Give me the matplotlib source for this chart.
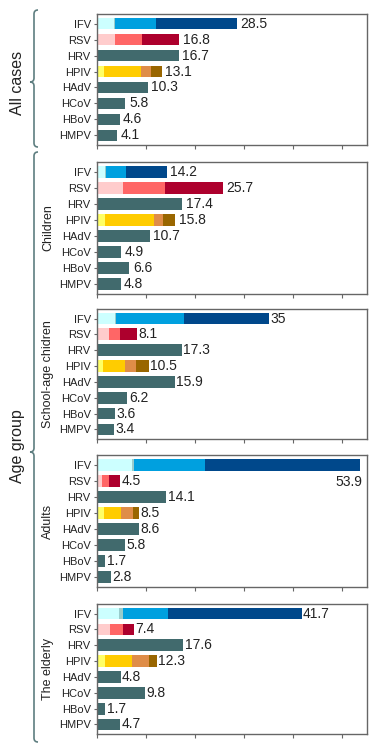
import matplotlib
matplotlib.use("Agg")
import matplotlib.pyplot as plt
from matplotlib.path import Path
from matplotlib.patches import PathPatch
import numpy as np

plt.rcParams['font.family'] = ['Liberation Sans', 'DejaVu Sans']

viruses = ["IFV", "RSV", "HRV", "HPIV", "HAdV", "HCoV", "HBoV", "HMPV"]
groups = ["All cases", "Children", "School-age chidren", "Adults", "The elderly"]

# IFV segments: [light cyan, separator, blue, dark blue]
ifv_seg = [
    [3.46, 0.2, 8.35, 16.5],
    [1.63, 0.2, 4.07, 8.3],
    [3.67, 0.2, 13.83, 17.3],
    [7.13, 0.41, 14.36, 31.6],
    [4.48, 0.82, 9.1, 27.3],
]
# RSV segments: [pink, light red, dark red]
rsv_seg = [
    [3.67, 5.5, 7.63],
    [5.36, 8.49, 11.85],
    [2.44, 2.24, 3.42],
    [0.95, 1.49, 2.2],
    [2.65, 2.65, 2.24],
]
# HPIV segments: [yellow, gold, orange, brown]
hpiv_seg = [
    [1.43, 7.6, 1.97, 2.24],
    [1.63, 9.97, 1.84, 2.46],
    [1.15, 4.55, 2.24, 2.66],
    [1.43, 3.46, 2.44, 1.22],
    [1.63, 5.5, 3.47, 1.6],
]
# single-colour viruses
hrv = [16.7, 17.4, 17.3, 14.1, 17.6]
hadv = [10.3, 10.7, 15.9, 8.6, 4.8]
hcov = [5.8, 4.9, 6.2, 5.8, 9.8]
hbov = [4.6, 6.6, 3.6, 1.7, 1.7]
hmpv = [4.1, 4.8, 3.4, 2.8, 4.7]
# total labels
ifv_tot = ["28.5", "14.2", "35", "53.9", "41.7"]
rsv_tot = ["16.8", "25.7", "8.1", "4.5", "7.4"]
hpiv_tot = ["13.1", "15.8", "10.5", "8.5", "12.3"]

ifv_colors = ["#ccffff", "#99cccc", "#00a0df", "#00488b"]
rsv_colors = ["#ffcccc", "#ff6666", "#ad002d"]
hpiv_colors = ["#ffff66", "#ffcc00", "#df8d48", "#996600"]
teal = "#416a6d"
spine_c = "#666666"
txt_c = "#222222"

W, H = 379, 746
fig = plt.figure(figsize=(W / 100, H / 100), dpi=100)

panels_px = [(14, 145), (162, 294), (309, 439), (455, 587), (604, 734)]
left_px, right_px = 97, 367
label_off = [2.5, 2.5, 1, 1, 1]

for i, (top, bot) in enumerate(panels_px):
    ax = fig.add_axes([left_px / W, 1 - bot / H, (right_px - left_px) / W, (bot - top) / H])
    y = np.arange(len(viruses))
    bh = 0.74
    # IFV
    left = 0
    for v, c in zip(ifv_seg[i], ifv_colors):
        ax.barh(0, v, left=left, color=c, height=bh, linewidth=0)
        left += v
    ifv_end = left
    left = 0
    for v, c in zip(rsv_seg[i], rsv_colors):
        ax.barh(1, v, left=left, color=c, height=bh, linewidth=0)
        left += v
    rsv_end = left
    left = 0
    for v, c in zip(hpiv_seg[i], hpiv_colors):
        ax.barh(3, v, left=left, color=c, height=bh, linewidth=0)
        left += v
    hpiv_end = left
    singles = {2: hrv[i], 4: hadv[i], 5: hcov[i], 6: hbov[i], 7: hmpv[i]}
    for yy, v in singles.items():
        ax.barh(yy, v, color=teal, height=bh, linewidth=0)

    def lab(x, yy, s):
        ax.annotate(s, (x, yy), xytext=(label_off[i], 0), textcoords="offset points",
                    ha="left", va="center", fontsize=10, color=txt_c)

    if groups[i] == "Adults":
        ax.text(ifv_end + 0.6, 1.05, ifv_tot[i], ha="right", va="center", fontsize=10, color=txt_c)
    else:
        lab(ifv_end, 0, ifv_tot[i])
    lab(rsv_end, 1, rsv_tot[i])
    lab(hpiv_end, 3, hpiv_tot[i])
    for yy, v in singles.items():
        lab(v, yy, f"{v:g}")

    ax.set_xlim(0, 55)
    ax.set_ylim(7.6, -0.6)
    ax.set_xticks([0, 10, 20, 30, 40, 50])
    ax.set_xticklabels([])
    ax.set_yticks(y)
    ax.set_yticklabels(viruses, fontsize=8, color=txt_c)
    ax.tick_params(axis="y", length=2.5, width=0.8, color=spine_c, pad=2)
    ax.tick_params(axis="x", length=3, width=0.8, color=spine_c)
    for sp in ax.spines.values():
        sp.set_color(spine_c)
        sp.set_linewidth(1.0)
    if i > 0:
        yc = (top + bot) / 2
        fig.text(48 / W, 1 - yc / H, groups[i], rotation=90, ha="center", va="center",
                 fontsize=9, color=txt_c)

# brackets overlay
ov = fig.add_axes([0, 0, 1, 1], facecolor="none")
ov.set_xlim(0, W)
ov.set_ylim(H, 0)
ov.axis("off")
brace_c = "#5e7e80"


def brace(ytop, ytip, ybot, x0=34, d=4):
    verts = [(x0 + d, ytop), (x0, ytop), (x0, ytop + d),
             (x0, ytip - d), (x0, ytip), (x0 - d, ytip),
             (x0, ytip), (x0, ytip + d),
             (x0, ybot - d), (x0, ybot), (x0 + d, ybot)]
    codes = [Path.MOVETO, Path.CURVE3, Path.CURVE3,
             Path.LINETO, Path.CURVE3, Path.CURVE3,
             Path.MOVETO, Path.CURVE3,
             Path.LINETO, Path.CURVE3, Path.CURVE3]
    # fix second curve (tip back to line)
    verts[6] = (x0 - d, ytip)
    verts[7] = (x0, ytip)
    verts.insert(8, (x0, ytip + d))
    codes = [Path.MOVETO, Path.CURVE3, Path.CURVE3,
             Path.LINETO, Path.CURVE3, Path.CURVE3,
             Path.MOVETO, Path.CURVE3, Path.CURVE3,
             Path.LINETO, Path.CURVE3, Path.CURVE3]
    ov.add_patch(PathPatch(Path(verts, codes), fill=False, edgecolor=brace_c, linewidth=1.2))


brace(10, 82, 147)
brace(152, 452, 742)
fig.text(18 / W, 1 - 83 / H, "All cases", rotation=90, ha="center", va="center",
         fontsize=11.5, color=txt_c)
fig.text(18 / W, 1 - 446 / H, "Age group", rotation=90, ha="center", va="center",
         fontsize=11.5, color=txt_c)

fig.savefig("out.png", dpi=100)
